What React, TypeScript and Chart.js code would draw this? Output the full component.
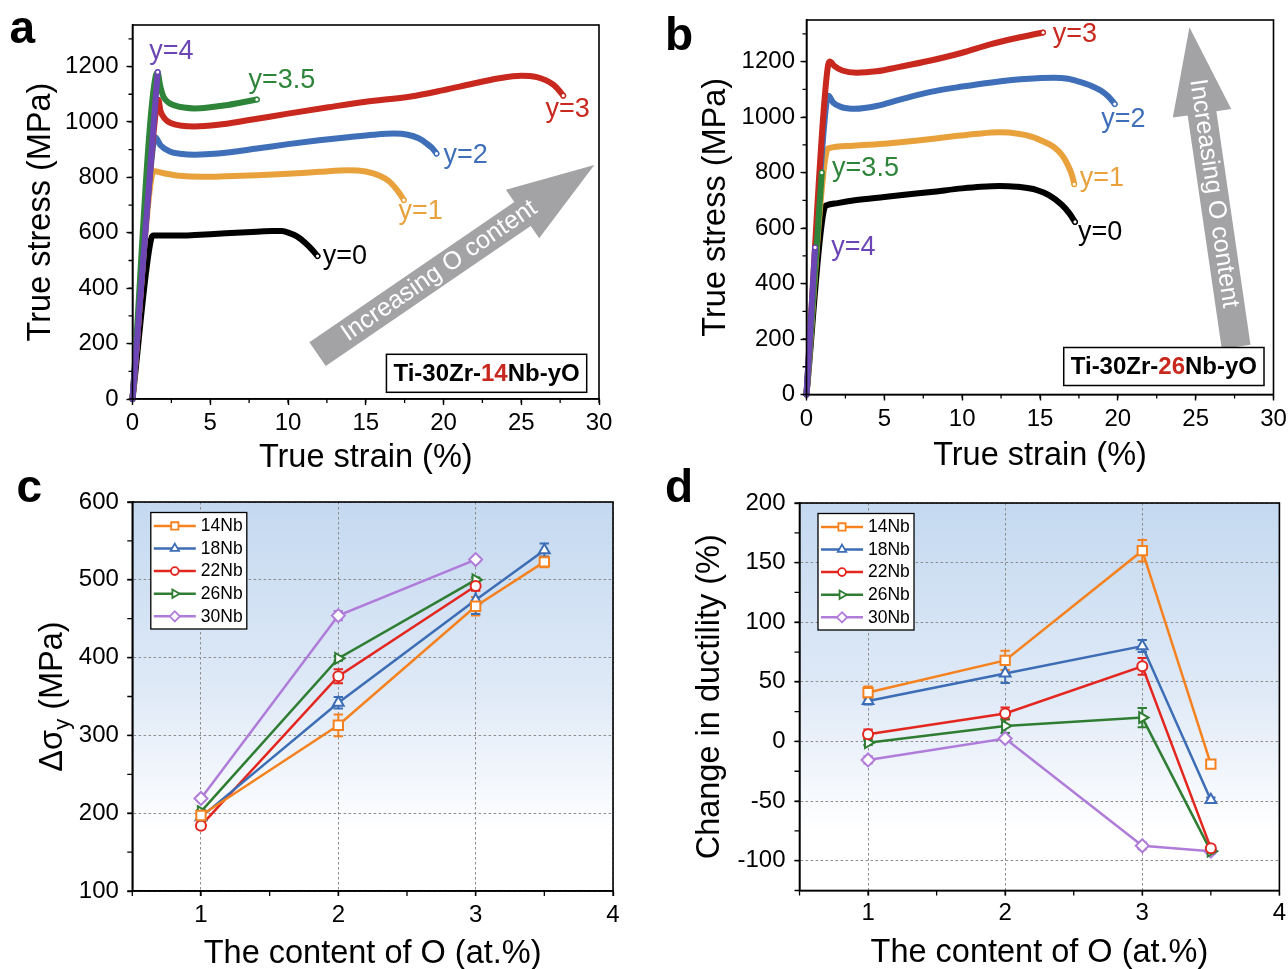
import React, { useEffect, useRef } from 'react';
import { Chart, registerables } from 'chart.js';
import { drawPoint } from 'chart.js/helpers';

Chart.register(...registerables);

const FONT = '"Liberation Sans", Arial, Helvetica, sans-serif';

// ---------- colours ----------
const BLACK = '#000000';
const ORANGE = '#E9A23B';
const BLUE = '#3E6FB8';
const RED = '#C8281E';
const GREEN = '#2E8539';
const PURPLE = '#6B46B4';

const C_ORANGE = '#F5821F';
const C_BLUE = '#3C6DB5';
const C_RED = '#E3261F';
const C_GREEN = '#2E7D32';
const C_PURPLE = '#B07CDA';

// ---------- panel a : Ti-30Zr-14Nb-yO ----------
const A_Y0_STRAIN = [0, 1.2, 1.35, 2, 3, 4, 5, 6, 7, 8, 9, 9.6, 10.1, 10.6, 11.1, 11.5, 11.9];
const A_Y0_STRESS = [0, 578, 590, 590, 590, 592, 595, 598, 601, 604, 606, 606, 599, 586, 564, 542, 516];
const A_Y1_STRAIN = [0, 1.25, 1.4, 2, 3, 4.5, 6, 8, 10, 12, 13.9, 15, 15.9, 16.5, 16.9, 17.2, 17.45];
const A_Y1_STRESS = [0, 808, 822, 815, 806, 802, 804, 808, 813, 820, 826, 821, 806, 786, 762, 740, 718];
const A_Y2_STRAIN = [0, 1.35, 1.47, 1.8, 2.4, 3.2, 4, 5.5, 8, 10, 12, 14, 15.5, 16.8, 17.7, 18.4, 18.9, 19.3, 19.55];
const A_Y2_STRESS = [0, 925, 945, 916, 893, 884, 882, 886, 904, 920, 934, 946, 954, 958, 954, 941, 923, 904, 886];
const A_Y3_STRAIN = [0, 1.55, 1.66, 1.8, 2.1, 2.5, 3.2, 4, 5.5, 7.3, 10, 12.6, 15, 17.9, 20, 21.8, 23.5, 25, 26, 26.6, 27.1, 27.45, 27.7];
const A_Y3_STRESS = [0, 1060, 1080, 1040, 1010, 995, 986, 984, 990, 1005, 1030, 1053, 1073, 1092, 1115, 1137, 1157, 1167, 1162, 1150, 1133, 1113, 1095];
const A_Y35_STRAIN = [0, 1.5, 1.62, 1.77, 2.0, 2.3, 2.7, 3.3, 4, 5, 6, 7, 8];
const A_Y35_STRESS = [0, 1168, 1178, 1133, 1090, 1071, 1060, 1052, 1049, 1053, 1060, 1070, 1081];
const A_Y4_STRAIN = [0, 1.62];
const A_Y4_STRESS = [0, 1180];

// ---------- panel b : Ti-30Zr-26Nb-yO ----------
const B_Y0_STRAIN = [0, 1.15, 1.3, 2, 3.1, 5, 6.3, 8, 10, 11.2, 12.4, 13.5, 14.8, 15.6, 16.4, 16.9, 17.25];
const B_Y0_STRESS = [0, 672, 682, 690, 700, 712, 720, 730, 743, 749, 752, 749, 737, 718, 684, 652, 622];
const B_Y1_STRAIN = [0, 1.3, 1.45, 3, 5.2, 7, 9.2, 11, 12.4, 13.6, 14.5, 15.3, 15.9, 16.4, 16.8, 17.05, 17.2];
const B_Y1_STRESS = [0, 878, 888, 897, 905, 915, 929, 940, 945, 940, 929, 910, 892, 864, 826, 792, 758];
const B_Y2_STRAIN = [0, 1.3, 1.42, 1.7, 2.2, 3.1, 4.5, 6, 7.9, 10, 11.9, 14, 15.9, 16.8, 17.5, 18.2, 18.9, 19.4, 19.8];
const B_Y2_STRESS = [0, 1060, 1077, 1053, 1037, 1030, 1040, 1063, 1090, 1110, 1125, 1137, 1142, 1138, 1128, 1115, 1096, 1074, 1047];
const B_Y3_STRAIN = [0, 1.38, 1.5, 1.8, 2.3, 3.2, 4.5, 6, 7.9, 10, 11.8, 13.5, 15.2];
const B_Y3_STRESS = [0, 1185, 1200, 1184, 1168, 1160, 1165, 1181, 1203, 1232, 1262, 1285, 1305];
const B_Y35_STRAIN = [0, 0.98];
const B_Y35_STRESS = [0, 800];
const B_Y4_STRAIN = [0, 0.55];
const B_Y4_STRESS = [0, 530];

// ---------- panels c, d ----------
const O_CONTENT = [1, 2, 3, 3.5];
const SERIES_NAMES = ['14Nb', '18Nb', '22Nb', '26Nb', '30Nb'];

const DSY_14NB = [197, 313, 466, 523];
const DSY_14NB_ERR = [3, 14, 12, 7];
const DSY_18NB = [195, 342, 474, 538];
const DSY_18NB_ERR = [3, 7.5, 18, 8.5];
const DSY_22NB = [184, 376, 492];
const DSY_22NB_ERR = [4, 9, 6];
const DSY_26NB = [202, 399, 500];
const DSY_26NB_ERR = [2, 3, 3];
const DSY_30NB = [219, 454, 526];
const DSY_30NB_ERR = [3, 6, 3];

const DUCT_14NB = [41, 68, 160, -19];
const DUCT_14NB_ERR = [5, 8, 9, 2];
const DUCT_18NB = [34, 57, 80, -49];
const DUCT_18NB_ERR = [3, 8, 5, 2];
const DUCT_22NB = [6, 23.5, 63, -89.5];
const DUCT_22NB_ERR = [4, 5, 7, 2];
const DUCT_26NB = [-1, 13, 20, -92];
const DUCT_26NB_ERR = [2, 6, 8, 2];
const DUCT_30NB = [-15.5, 2.5, -87.5, -92];
const DUCT_30NB_ERR = [3, 2, 3, 2];

// ---------- annotations (data coordinates) ----------
const LABELS_A = [
  { text: 'y=4', x: 2.5, y: 1253, color: PURPLE },
  { text: 'y=3.5', x: 9.6, y: 1148, color: GREEN },
  { text: 'y=3', x: 27.98, y: 1045, color: RED },
  { text: 'y=2', x: 21.42, y: 880, color: BLUE },
  { text: 'y=1', x: 18.53, y: 676, color: ORANGE },
  { text: 'y=0', x: 13.66, y: 513, color: BLACK },
];
const LABELS_B = [
  { text: 'y=3', x: 17.24, y: 1299, color: RED },
  { text: 'y=2', x: 20.36, y: 992, color: BLUE },
  { text: 'y=1', x: 18.98, y: 778, color: ORANGE },
  { text: 'y=0', x: 18.86, y: 583, color: BLACK },
  { text: 'y=3.5', x: 3.79, y: 814, color: GREEN },
  { text: 'y=4', x: 3.01, y: 528, color: PURPLE },
];
const ARROW_A = { x0: 11.9, y0: 162, x1: 29.7, y1: 845, t: 0.44 };
const ARROW_B = { x0: 27.6, y0: 172, x1: 24.6, y1: 1324, t: 0.48 };
const ARROW_TEXT = 'Increasing O content';

type Pt = { x: number; y: number };
const zip = (xs: number[], ys: number[]): Pt[] => ys.map((y, i) => ({ x: xs[i], y }));

interface Decor {
  frame?: boolean;
  gradient?: boolean;
  minor?: { x: number; y: number; len: number };
  labels?: { text: string; x: number; y: number; color: string }[];
  arrow?: { x0: number; y0: number; x1: number; y1: number; t: number };
  tag?: { parts: { text: string; color: string }[]; right: number; bottom: number };
  legend?: { dx: number; dy: number };
  errors?: number[][];
  yTitleSub?: { x: number };
}

function makeDecor(d: Decor) {
  return {
    id: 'decor',
    beforeDraw(chart: any) {
      if (!d.gradient) return;
      const { ctx, chartArea: a } = chart;
      const g = ctx.createLinearGradient(0, a.top, 0, a.bottom);
      g.addColorStop(0, 'rgb(196,217,240)');
      g.addColorStop(0.5, 'rgb(224,234,247)');
      g.addColorStop(0.85, 'rgb(255,255,255)');
      g.addColorStop(1, 'rgb(255,255,255)');
      ctx.save();
      ctx.fillStyle = g;
      ctx.fillRect(a.left, a.top, a.right - a.left, a.bottom - a.top);
      ctx.restore();
    },
    beforeDatasetsDraw(chart: any) {
      if (!d.errors) return;
      const { ctx } = chart;
      const xs = chart.scales.x;
      const ys = chart.scales.y;
      ctx.save();
      chart.data.datasets.forEach((ds: any, i: number) => {
        const errs = d.errors![i];
        if (!errs) return;
        ctx.strokeStyle = ds.borderColor;
        ctx.lineWidth = 2;
        ds.data.forEach((p: Pt, j: number) => {
          const e = errs[j];
          if (!e) return;
          const px = xs.getPixelForValue(p.x);
          const y1 = ys.getPixelForValue(p.y + e);
          const y2 = ys.getPixelForValue(p.y - e);
          ctx.beginPath();
          ctx.moveTo(px, y1);
          ctx.lineTo(px, y2);
          ctx.moveTo(px - 4.7, y1);
          ctx.lineTo(px + 4.7, y1);
          ctx.moveTo(px - 4.7, y2);
          ctx.lineTo(px + 4.7, y2);
          ctx.stroke();
        });
      });
      ctx.restore();
    },
    afterDatasetsDraw(chart: any) {
      const { ctx, chartArea: a } = chart;
      const xs = chart.scales.x;
      const ys = chart.scales.y;
      ctx.save();
      if (d.arrow) {
        const ar = d.arrow;
        const x0 = xs.getPixelForValue(ar.x0);
        const y0 = ys.getPixelForValue(ar.y0);
        const x1 = xs.getPixelForValue(ar.x1);
        const y1 = ys.getPixelForValue(ar.y1);
        const L = Math.hypot(x1 - x0, y1 - y0);
        const ux = (x1 - x0) / L;
        const uy = (y1 - y0) / L;
        const nx = -uy;
        const ny = ux;
        const w = 14.5;
        const h = 29.5;
        const hl = 87;
        const bx = x1 - ux * hl;
        const by = y1 - uy * hl;
        ctx.fillStyle = '#A3A3A5';
        ctx.beginPath();
        ctx.moveTo(x0 + nx * w, y0 + ny * w);
        ctx.lineTo(bx + nx * w, by + ny * w);
        ctx.lineTo(bx + nx * h, by + ny * h);
        ctx.lineTo(x1, y1);
        ctx.lineTo(bx - nx * h, by - ny * h);
        ctx.lineTo(bx - nx * w, by - ny * w);
        ctx.lineTo(x0 - nx * w, y0 - ny * w);
        ctx.closePath();
        ctx.fill();
        let ang = Math.atan2(uy, ux);
        if (ang < -Math.PI / 2) ang += Math.PI;
        if (ang > Math.PI / 2) ang -= Math.PI;
        const tx = x0 + ux * L * ar.t;
        const ty = y0 + uy * L * ar.t;
        ctx.save();
        ctx.translate(tx, ty);
        ctx.rotate(ang);
        ctx.fillStyle = '#ffffff';
        ctx.font = `25px ${FONT}`;
        ctx.textAlign = 'center';
        ctx.textBaseline = 'middle';
        ctx.fillText(ARROW_TEXT, 0, 0);
        ctx.restore();
      }
      if (d.labels) {
        ctx.font = `27px ${FONT}`;
        ctx.textAlign = 'center';
        ctx.textBaseline = 'middle';
        d.labels.forEach((l) => {
          ctx.fillStyle = l.color;
          ctx.fillText(l.text, xs.getPixelForValue(l.x), ys.getPixelForValue(l.y));
        });
      }
      if (d.tag) {
        ctx.font = `bold 24px ${FONT}`;
        const widths = d.tag.parts.map((p) => ctx.measureText(p.text).width);
        const tw = widths.reduce((s, v) => s + v, 0);
        const bw = tw + 14;
        const bh = 38;
        const bxl = a.right - d.tag.right - bw;
        const byt = a.bottom - d.tag.bottom - bh;
        ctx.fillStyle = '#ffffff';
        ctx.fillRect(bxl, byt, bw, bh);
        ctx.strokeStyle = '#000';
        ctx.lineWidth = 1.5;
        ctx.strokeRect(bxl, byt, bw, bh);
        ctx.textAlign = 'left';
        ctx.textBaseline = 'middle';
        let cx = bxl + 7;
        d.tag.parts.forEach((p, i) => {
          ctx.fillStyle = p.color;
          ctx.fillText(p.text, cx, byt + bh / 2 + 1);
          cx += widths[i];
        });
      }
      ctx.restore();
    },
    afterDraw(chart: any) {
      const { ctx, chartArea: a } = chart;
      const xs = chart.scales.x;
      const ys = chart.scales.y;
      ctx.save();
      if (d.minor) {
        ctx.strokeStyle = '#000';
        ctx.lineWidth = 1.3;
        ctx.beginPath();
        for (let v = xs.min; v <= xs.max + 1e-9; v += d.minor.x) {
          const p = xs.getPixelForValue(v);
          ctx.moveTo(p, a.bottom);
          ctx.lineTo(p, a.bottom + d.minor.len);
        }
        for (let v = ys.min; v <= ys.max + 1e-9; v += d.minor.y) {
          const p = ys.getPixelForValue(v);
          ctx.moveTo(a.left - d.minor.len, p);
          ctx.lineTo(a.left, p);
        }
        ctx.stroke();
      }
      if (d.frame) {
        ctx.strokeStyle = '#000';
        ctx.lineWidth = 1.6;
        ctx.strokeRect(a.left, a.top, a.right - a.left, a.bottom - a.top);
      }
      if (d.legend) {
        const bx = a.left + d.legend.dx;
        const by = a.top + d.legend.dy;
        const bw = 96;
        const bh = 116.5;
        ctx.fillStyle = '#ffffff';
        ctx.fillRect(bx, by, bw, bh);
        ctx.strokeStyle = '#000';
        ctx.lineWidth = 1.3;
        ctx.strokeRect(bx, by, bw, bh);
        chart.data.datasets.forEach((ds: any, i: number) => {
          const ry = by + 13.4 + i * 22.6;
          ctx.strokeStyle = ds.borderColor;
          ctx.lineWidth = 2.5;
          ctx.beginPath();
          ctx.moveTo(bx + 3, ry);
          ctx.lineTo(bx + 45, ry);
          ctx.stroke();
          ctx.fillStyle = '#ffffff';
          ctx.lineWidth = 1.8;
          drawPoint(ctx, {
            pointStyle: ds.pointStyle,
            rotation: ds.pointRotation || 0,
            radius: ds.pointRadius * 0.78,
            borderWidth: 1.8,
          } as any, bx + 24, ry);
          ctx.fillStyle = '#000';
          ctx.font = `17.5px ${FONT}`;
          ctx.textAlign = 'left';
          ctx.textBaseline = 'middle';
          ctx.fillText(ds.label, bx + 50, ry + 0.5);
        });
      }
      if (d.yTitleSub) {
        const cy = (a.top + a.bottom) / 2;
        ctx.translate(d.yTitleSub.x, cy);
        ctx.rotate(-Math.PI / 2);
        const big = `32.5px ${FONT}`;
        const small = `22px ${FONT}`;
        ctx.font = big;
        const w1 = ctx.measureText('Δσ').width;
        const w3 = ctx.measureText(' (MPa)').width;
        ctx.font = small;
        const w2 = ctx.measureText('y').width;
        let x = -(w1 + w2 + w3) / 2;
        const base = 11.5;
        ctx.fillStyle = '#000';
        ctx.textAlign = 'left';
        ctx.textBaseline = 'alphabetic';
        ctx.font = big;
        ctx.fillText('Δσ', x, base);
        x += w1;
        ctx.font = small;
        ctx.fillText('y', x, base + 7);
        x += w2;
        ctx.font = big;
        ctx.fillText(' (MPa)', x, base);
      }
      ctx.restore();
    },
  };
}

type Curve = { label: string; strain: number[]; stress: number[]; color: string; order: number };

interface Lay {
  top: number;
  right: number;
  yWidth: number;
  xHeight: number;
  yTickPad: number;
  xTickPad: number;
  yTitlePad: number;
  xTitlePad: number;
}

const tickFont = { family: FONT, size: 24 };
const titleFont = { family: FONT, size: 32.5 };

function stressConfig(curves: Curve[], lay: Lay, decor: Decor) {
  return {
    type: 'line',
    data: {
      datasets: curves.map((c) => ({
        label: c.label,
        data: zip(c.strain, c.stress),
        borderColor: c.color,
        backgroundColor: c.color,
        borderWidth: 6,
        borderJoinStyle: 'round',
        borderCapStyle: 'round',
        cubicInterpolationMode: 'monotone',
        pointRadius: (ctx: any) => (ctx.dataIndex === c.stress.length - 1 ? 2.2 : 0),
        pointBackgroundColor: '#ffffff',
        pointBorderColor: c.color,
        pointBorderWidth: 1.2,
        order: c.order,
        clip: false,
        fill: false,
      })),
    },
    options: {
      responsive: false,
      animation: false,
      events: [],
      layout: { padding: { left: 0, top: lay.top, right: lay.right, bottom: 0 } },
      plugins: { legend: { display: false }, tooltip: { enabled: false } },
      scales: {
        x: {
          type: 'linear',
          min: 0,
          max: 30,
          ticks: {
            stepSize: 5,
            includeBounds: false,
            autoSkip: false,
            maxRotation: 0,
            font: tickFont,
            color: '#000',
            padding: lay.xTickPad,
            callback: (v: number) => String(v),
          },
          grid: { drawOnChartArea: false, drawTicks: true, tickLength: 6, tickColor: '#000', tickWidth: 1.4 },
          border: { display: true, color: '#000', width: 1.6 },
          title: {
            display: true,
            text: 'True strain (%)',
            font: titleFont,
            color: '#000',
            padding: { top: 0, bottom: lay.xTitlePad },
          },
          afterFit: (s: any) => {
            s.height = lay.xHeight;
            s.paddingLeft = 0;
            s.paddingRight = 0;
          },
        },
        y: {
          type: 'linear',
          min: 0,
          max: 1350,
          ticks: {
            stepSize: 200,
            includeBounds: false,
            autoSkip: false,
            font: tickFont,
            color: '#000',
            padding: lay.yTickPad,
            callback: (v: number) => String(v),
          },
          grid: { drawOnChartArea: false, drawTicks: true, tickLength: 6, tickColor: '#000', tickWidth: 1.4 },
          border: { display: true, color: '#000', width: 1.6 },
          title: {
            display: true,
            text: 'True stress (MPa)',
            font: titleFont,
            color: '#000',
            padding: { top: lay.yTitlePad, bottom: 0 },
          },
          afterFit: (s: any) => {
            s.width = lay.yWidth;
            s.paddingTop = 0;
            s.paddingBottom = 0;
          },
        },
      },
    },
    plugins: [makeDecor(decor)],
  };
}

const STYLES = [
  { color: C_ORANGE, pointStyle: 'rect', radius: 6.6, rotation: 0 },
  { color: C_BLUE, pointStyle: 'triangle', radius: 6.2, rotation: 0 },
  { color: C_RED, pointStyle: 'circle', radius: 5, rotation: 0 },
  { color: C_GREEN, pointStyle: 'triangle', radius: 6.2, rotation: 90 },
  { color: C_PURPLE, pointStyle: 'rectRot', radius: 6.5, rotation: 0 },
];

function oxygenConfig(
  values: number[][],
  errors: number[][],
  y: { min: number; max: number; step: number; title: string | null },
  lay: Lay,
  minorY: number,
) {
  return {
    type: 'line',
    data: {
      datasets: values.map((vals, i) => ({
        label: SERIES_NAMES[i],
        data: zip(O_CONTENT, vals),
        borderColor: STYLES[i].color,
        backgroundColor: '#ffffff',
        borderWidth: 2.5,
        tension: 0,
        pointStyle: STYLES[i].pointStyle,
        pointRotation: STYLES[i].rotation,
        pointRadius: STYLES[i].radius,
        pointBorderWidth: 2,
        pointBackgroundColor: '#ffffff',
        pointBorderColor: STYLES[i].color,
        clip: false,
        fill: false,
      })),
    },
    options: {
      responsive: false,
      animation: false,
      events: [],
      layout: { padding: { left: 0, top: lay.top, right: lay.right, bottom: 0 } },
      plugins: { legend: { display: false }, tooltip: { enabled: false } },
      scales: {
        x: {
          type: 'linear',
          min: 0.5,
          max: 4,
          ticks: {
            stepSize: 1,
            includeBounds: false,
            autoSkip: false,
            maxRotation: 0,
            font: tickFont,
            color: '#000',
            padding: lay.xTickPad,
            callback: (v: number) => String(v),
          },
          grid: {
            drawOnChartArea: true,
            color: '#8c8c8c',
            lineWidth: 1,
            drawTicks: true,
            tickLength: 5,
            tickColor: '#000',
            tickWidth: 1.4,
          },
          border: { display: true, color: '#000', width: 1.6, dash: [2.5, 2.5] },
          title: {
            display: true,
            text: 'The content of O (at.%)',
            font: titleFont,
            color: '#000',
            padding: { top: 0, bottom: lay.xTitlePad },
          },
          afterFit: (s: any) => {
            s.height = lay.xHeight;
            s.paddingLeft = 0;
            s.paddingRight = 0;
          },
        },
        y: {
          type: 'linear',
          min: y.min,
          max: y.max,
          ticks: {
            stepSize: y.step,
            includeBounds: false,
            autoSkip: false,
            font: tickFont,
            color: '#000',
            padding: lay.yTickPad,
            callback: (v: number) => String(v),
          },
          grid: {
            drawOnChartArea: true,
            color: '#8c8c8c',
            lineWidth: 1,
            drawTicks: true,
            tickLength: 5,
            tickColor: '#000',
            tickWidth: 1.4,
          },
          border: { display: true, color: '#000', width: 1.6, dash: [2.5, 2.5] },
          title: {
            display: y.title !== null,
            text: y.title || '',
            font: titleFont,
            color: '#000',
            padding: { top: lay.yTitlePad, bottom: 0 },
          },
          afterFit: (s: any) => {
            s.width = lay.yWidth;
            s.paddingTop = 0;
            s.paddingBottom = 0;
          },
        },
      },
    },
    plugins: [
      makeDecor({
        gradient: true,
        frame: true,
        minor: { x: 0.5, y: minorY, len: 5 },
        errors,
        legend: { dx: 18.5, dy: 10.5 },
        yTitleSub: y.title === null ? { x: 50 } : undefined,
      }),
    ],
  };
}

const makeA = () =>
  stressConfig(
    [
      { label: 'y=4', strain: A_Y4_STRAIN, stress: A_Y4_STRESS, color: PURPLE, order: 0 },
      { label: 'y=3.5', strain: A_Y35_STRAIN, stress: A_Y35_STRESS, color: GREEN, order: 1 },
      { label: 'y=3', strain: A_Y3_STRAIN, stress: A_Y3_STRESS, color: RED, order: 2 },
      { label: 'y=2', strain: A_Y2_STRAIN, stress: A_Y2_STRESS, color: BLUE, order: 3 },
      { label: 'y=1', strain: A_Y1_STRAIN, stress: A_Y1_STRESS, color: ORANGE, order: 4 },
      { label: 'y=0', strain: A_Y0_STRAIN, stress: A_Y0_STRESS, color: BLACK, order: 5 },
    ],
    { top: 25, right: 41, yWidth: 132.5, xHeight: 81, yTickPad: 8, xTickPad: 3.6, yTitlePad: 22, xTitlePad: 2.5 },
    {
      frame: true,
      minor: { x: 2.5, y: 100, len: 4 },
      labels: LABELS_A,
      arrow: ARROW_A,
      tag: {
        parts: [
          { text: 'Ti-30Zr-', color: '#000' },
          { text: '14', color: RED },
          { text: 'Nb-yO', color: '#000' },
        ],
        right: 12.3,
        bottom: 6.7,
      },
    },
  );

const makeB = () =>
  stressConfig(
    [
      { label: 'y=4', strain: B_Y4_STRAIN, stress: B_Y4_STRESS, color: PURPLE, order: 0 },
      { label: 'y=3.5', strain: B_Y35_STRAIN, stress: B_Y35_STRESS, color: GREEN, order: 1 },
      { label: 'y=3', strain: B_Y3_STRAIN, stress: B_Y3_STRESS, color: RED, order: 2 },
      { label: 'y=2', strain: B_Y2_STRAIN, stress: B_Y2_STRESS, color: BLUE, order: 3 },
      { label: 'y=1', strain: B_Y1_STRAIN, stress: B_Y1_STRESS, color: ORANGE, order: 4 },
      { label: 'y=0', strain: B_Y0_STRAIN, stress: B_Y0_STRESS, color: BLACK, order: 5 },
    ],
    { top: 20, right: 14.5, yWidth: 158.5, xHeight: 85.5, yTickPad: 5.5, xTickPad: 4.3, yTitlePad: 49, xTitlePad: 4.8 },
    {
      frame: true,
      minor: { x: 2.5, y: 100, len: 4 },
      labels: LABELS_B,
      arrow: ARROW_B,
      tag: {
        parts: [
          { text: 'Ti-30Zr-', color: '#000' },
          { text: '26', color: RED },
          { text: 'Nb-yO', color: '#000' },
        ],
        right: 9.5,
        bottom: 9,
      },
    },
  );

const makeC = () =>
  oxygenConfig(
    [DSY_14NB, DSY_18NB, DSY_22NB, DSY_26NB, DSY_30NB],
    [DSY_14NB_ERR, DSY_18NB_ERR, DSY_22NB_ERR, DSY_26NB_ERR, DSY_30NB_ERR],
    { min: 100, max: 600, step: 100, title: null },
    { top: 22, right: 27, yWidth: 132.3, xHeight: 78, yTickPad: 8.4, xTickPad: 4.6, yTitlePad: 20, xTitlePad: -5 },
    50,
  );

const makeD = () =>
  oxygenConfig(
    [DUCT_14NB, DUCT_18NB, DUCT_22NB, DUCT_26NB, DUCT_30NB],
    [DUCT_14NB_ERR, DUCT_18NB_ERR, DUCT_22NB_ERR, DUCT_26NB_ERR, DUCT_30NB_ERR],
    { min: -125, max: 200, step: 50, title: 'Change in ductility (%)' },
    { top: 23, right: 6, yWidth: 151.5, xHeight: 78.5, yTickPad: 9, xTickPad: 3.4, yTitlePad: 43, xTitlePad: -3.7 },
    25,
  );

function Panel(props: { left: number; top: number; width: number; height: number; make: () => any }) {
  const ref = useRef<HTMLCanvasElement | null>(null);
  useEffect(() => {
    if (!ref.current) return;
    const chart = new Chart(ref.current, props.make());
    return () => chart.destroy();
  }, []);
  return (
    <canvas
      ref={ref}
      width={props.width}
      height={props.height}
      style={{ position: 'absolute', left: props.left, top: props.top, width: props.width, height: props.height }}
    />
  );
}

const letterStyle = (left: number, top: number): React.CSSProperties => ({
  position: 'absolute',
  left,
  top,
  fontFamily: FONT,
  fontWeight: 'bold',
  fontSize: 46,
  lineHeight: '46px',
  color: '#000',
});

export default function App() {
  return (
    <div
      style={{
        position: 'absolute',
        left: 0,
        top: 0,
        width: 1288,
        height: 969,
        background: '#ffffff',
        overflow: 'hidden',
      }}
    >
      <Panel left={0} top={0} width={640} height={480} make={makeA} />
      <Panel left={648} top={0} width={640} height={480} make={makeB} />
      <Panel left={0} top={480} width={640} height={489} make={makeC} />
      <Panel left={648} top={480} width={640} height={489} make={makeD} />
      <div style={letterStyle(9.5, 4)}>a</div>
      <div style={letterStyle(665, 11)}>b</div>
      <div style={letterStyle(16.5, 463)}>c</div>
      <div style={letterStyle(665, 463)}>d</div>
    </div>
  );
}
